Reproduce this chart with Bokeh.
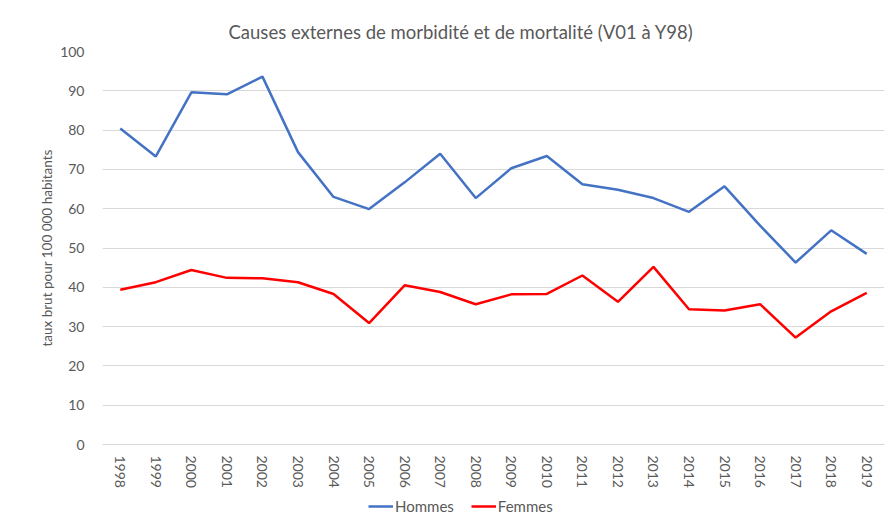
from bokeh.plotting import figure
from bokeh.layouts import column
from bokeh.models import FactorRange, Range1d, FixedTicker, Legend, LegendItem
from bokeh.embed import file_html
from bokeh.resources import INLINE

years = ["1998", "1999", "2000", "2001", "2002", "2003", "2004", "2005", "2006", "2007", "2008",
         "2009", "2010", "2011", "2012", "2013", "2014", "2015", "2016", "2017", "2018", "2019"]
hommes = [80.4, 73.3, 89.6, 89.1, 93.6, 74.4, 63.0, 59.9, 66.7, 74.0, 62.7,
          70.3, 73.4, 66.2, 64.8, 62.7, 59.2, 65.7, 55.7, 46.3, 54.5, 48.5]
femmes = [39.4, 41.3, 44.4, 42.4, 42.3, 41.3, 38.3, 30.9, 40.5, 38.8, 35.7,
          38.2, 38.3, 43.0, 36.3, 45.2, 34.4, 34.1, 35.7, 27.2, 33.9, 38.6]
y_ticks = [0, 10, 20, 30, 40, 50, 60, 70, 80, 90, 100]
series_names = ["Hommes", "Femmes"]
series_values = [hommes, femmes]
series_colors = ["#4472C4", "#FF0000"]

FONT = "Lato"
GREY = "#595959"

p = figure(width=887, height=495, x_range=FactorRange(*years, range_padding=0),
           y_range=Range1d(0, 100), output_backend="svg", toolbar_location=None,
           min_border_left=102, min_border_right=3, min_border_top=51, min_border_bottom=51)

p.title.text = "Causes externes de morbidité et de mortalité (V01 à Y98)"
p.title.align = "left"
p.title.offset = 126
p.title.vertical_align = "top"
p.title.standoff = 14
p.title.text_font = FONT
p.title.text_font_size = "18.5px"
p.title.text_font_style = "normal"
p.title.text_color = GREY

p.outline_line_color = None
p.background_fill_color = "white"
p.border_fill_color = "white"

p.xgrid.grid_line_color = None
p.ygrid.grid_line_color = "#d9d9d9"
p.ygrid.grid_line_width = 1
p.yaxis.ticker = FixedTicker(ticks=y_ticks)

for ax in (p.xaxis[0], p.yaxis[0]):
    ax.major_tick_line_color = None
    ax.minor_tick_line_color = None
    ax.major_label_text_font = FONT
    ax.major_label_text_font_size = "14px"
    ax.major_label_text_color = GREY
p.yaxis.axis_line_color = None
p.xaxis.axis_line_color = "#d9d9d9"
p.xaxis.major_label_orientation = "vertical"
p.xaxis.major_label_standoff = 5
p.yaxis.major_label_standoff = 12
p.yaxis.axis_label = "taux brut pour 100 000 habitants"
p.yaxis.axis_label_text_font = FONT
p.yaxis.axis_label_text_font_size = "13.5px"
p.yaxis.axis_label_text_font_style = "normal"
p.yaxis.axis_label_text_color = GREY
p.yaxis.axis_label_standoff = 2

for vals, col in zip(series_values, series_colors):
    p.line(years, vals, line_color=col, line_width=2.5)

# legend strip below the chart (series drawn outside its visible range, only legend shows)
lg = figure(width=887, height=26, x_range=FactorRange(*years, range_padding=0),
            y_range=Range1d(1000, 1001),
            x_axis_type=None, y_axis_type=None, output_backend="svg", toolbar_location=None,
            min_border=0)
lg.outline_line_color = None
lg.xgrid.grid_line_color = None
lg.ygrid.grid_line_color = None
items = []
for name, vals, col in zip(series_names, series_values, series_colors):
    r = lg.line(years, vals, line_color=col, line_width=2.5)
    items.append(LegendItem(label=name, renderers=[r]))
legend = Legend(items=items, orientation="horizontal", location=(266, 6),
                padding=0, margin=0, spacing=17, glyph_width=25, glyph_height=14,
                label_standoff=2, label_text_font=FONT, label_text_font_size="15px",
                label_text_color=GREY, background_fill_alpha=0, border_line_color=None)
lg.add_layout(legend, "center")

layout = column(p, lg, spacing=0)
open("out.html", "w").write(file_html(layout, INLINE))
